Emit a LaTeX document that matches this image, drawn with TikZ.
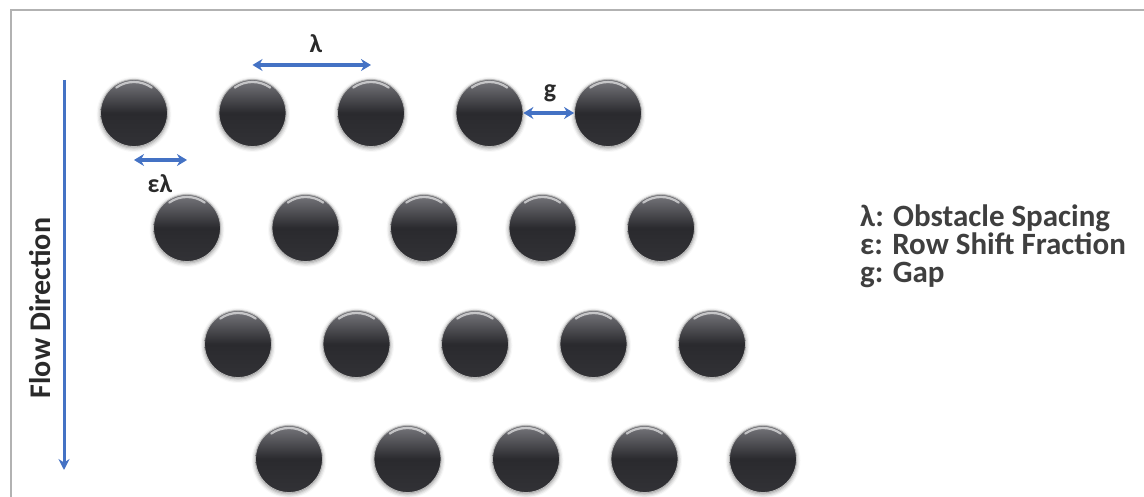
\documentclass[tikz,border=0pt]{standalone}
\usepackage{fontspec}
\setmainfont{Carlito}
\usetikzlibrary{arrows.meta,shadows.blur}
\definecolor{arrblue}{HTML}{4472C4}
\definecolor{txtgray}{HTML}{2A2A2A}
\definecolor{balltop}{HTML}{77777C}
\definecolor{ballbot}{HTML}{2A2A2E}
\tikzset{
  obstacle/.style={circle,minimum size=67pt,inner sep=0pt,
    top color=balltop,bottom color=ballbot!90!balltop,middle color=ballbot,
    draw=gray!55,line width=0.8pt,
    blur shadow={shadow xshift=0pt,shadow yshift=-1.5pt,shadow blur radius=4pt,shadow opacity=45}},
  shine/.style={white,opacity=0.6,line width=2.2pt,line cap=round},
  dim/.style={arrblue,line width=4pt,{Stealth[length=10pt,width=12pt]}-{Stealth[length=10pt,width=12pt]}},
  flowarrow/.style={arrblue,line width=3pt,-{Stealth[length=11pt,width=11pt]}},
  lbl/.style={font=\fontsize{26}{30}\selectfont\bfseries,text=txtgray,inner sep=0pt},
  legend/.style={font=\fontsize{31}{31}\selectfont\bfseries,text=txtgray!90!white,inner sep=0pt,anchor=base west},
  frameline/.style={gray!60,line width=1.1pt}
}
\begin{document}
\begin{tikzpicture}[x=1pt,y=-1pt]
\useasboundingbox (0,0) rectangle (1144,497);
\coordinate (fr1) at (1144,10);
\coordinate (fr0) at (11,10);
\coordinate (fr2) at (11,497);
\draw[frameline] (fr1) -- (fr0) -- (fr2);
% obstacles
\foreach \r/\y/\x in {1/113/134,2/228/187,3/344/238,4/459/289}{
  \foreach \c in {1,...,5}{
    \node[obstacle] (c\r\c) at ({\x+(\c-1)*118.5},\y) {};
    \draw[shine] ($(c\r\c.center)+(-125:31)$) arc[start angle=-125,end angle=-55,radius=31];
  }
}
% lambda
\coordinate (lamy) at (0,65);
\draw[dim] (c12 |- lamy) -- (c13 |- lamy);
\node[lbl] (lam) at (316,44) {λ};
% epsilon lambda
\coordinate (ely) at (0,160);
\draw[dim,line width=3.5pt] (c11 |- ely) -- (c21 |- ely);
\node[lbl] (el) at (160,184) {ελ};
% gap
\draw[dim,line width=3.5pt] (c14.east) -- (c15.west);
\node[lbl] (g) at (550,93) {g};
% flow direction
\coordinate (fl0) at (64,80);
\coordinate (fl1) at (64,470);
\draw[flowarrow] (fl0) -- (fl1);
\node[lbl,font=\fontsize{30}{30}\selectfont\bfseries,rotate=90] (flow) at (40,308) {Flow Direction};
% legend
\node[legend] (l1) at (860,227) {λ: Obstacle Spacing};
\node[legend] (l2) at (860,255) {ε: Row Shift Fraction};
\node[legend] (l3) at (860,283) {g: Gap};
\end{tikzpicture}
\end{document}
